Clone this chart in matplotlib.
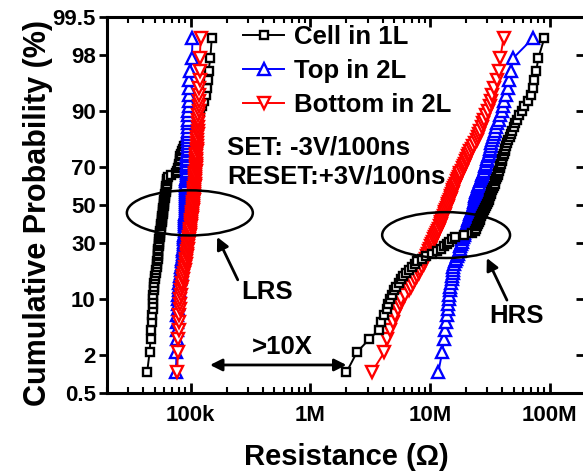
from statistics import NormalDist
import numpy as np
import matplotlib as mpl
mpl.use('Agg')
import matplotlib.pyplot as plt
from matplotlib.patches import Ellipse
from matplotlib.ticker import LogLocator, NullFormatter

mpl.rcParams.update({'font.family': ['Liberation Sans', 'DejaVu Sans'],
                     'font.weight': 'bold', 'axes.labelweight': 'bold'})

# resistance of each cell, sorted; LRS in kOhm, HRS in MOhm (90 cells per set)
lrs_cell_1l = [43.3, 45.4, 46.2, 47.0, 47.7, 47.9, 48.1, 48.3, 48.5, 48.7,
               49.0, 49.2, 49.6, 50.0, 50.5, 51.0, 51.5, 52.0, 52.5, 52.7,
               52.9, 53.1, 53.3, 53.5, 53.7, 53.9, 54.1, 54.4, 54.7, 55.0,
               55.3, 55.6, 55.9, 56.2, 56.5, 56.8, 57.2, 57.5, 57.7, 57.9,
               58.2, 58.5, 58.8, 59.1, 59.5, 59.8, 60.1, 60.4, 60.7, 61.0,
               61.3, 61.7, 62.1, 62.4, 62.7, 63.0, 63.3, 63.8, 64.5, 68.0,
               75.0, 77.5, 79.0, 79.8, 80.4, 81.0, 81.6, 82.2, 82.8, 84.5,
               86.1, 88.3, 90.6, 93.0, 95.4, 98.0, 100.9, 103.9, 107.2, 110.9,
               115.0, 119.5, 124.6, 129.5, 133.0, 136.0, 139.0, 141.0, 146.0, 150.0]
lrs_top_2l = [75.5, 76.0, 76.4, 76.7, 77.0, 77.4, 77.8, 78.2, 78.6, 79.1,
              79.6, 80.1, 80.6, 81.2, 81.8, 82.4, 83.0, 83.6, 84.2, 84.7,
              85.2, 85.7, 86.1, 86.5, 86.9, 87.3, 87.7, 88.0, 88.3, 88.5,
              88.7, 88.9, 89.1, 89.3, 89.5, 89.7, 89.9, 90.0, 90.2, 90.3,
              90.5, 90.6, 90.7, 90.8, 90.9, 91.0, 91.1, 91.2, 91.3, 91.4,
              91.5, 91.6, 91.7, 91.8, 91.9, 92.0, 92.1, 92.2, 92.3, 92.4,
              92.5, 92.6, 92.8, 93.0, 93.2, 93.4, 93.6, 93.8, 94.0, 94.2,
              94.4, 94.6, 94.8, 95.0, 95.1, 95.2, 95.3, 95.4, 95.5, 95.6,
              95.7, 95.8, 96.0, 96.2, 96.4, 96.6, 97.0, 99.5, 102.5, 103.5]
lrs_bottom_2l = [77.5, 77.8, 78.5, 79.5, 80.0, 80.4, 80.8, 81.3, 81.8, 82.5,
                 83.4, 84.3, 85.2, 86.1, 87.0, 87.9, 88.8, 89.7, 90.6, 91.4,
                 92.1, 92.8, 93.4, 94.0, 94.6, 95.2, 95.8, 96.4, 97.0, 97.5,
                 98.0, 98.5, 99.0, 99.5, 100.0, 100.5, 101.0, 101.5, 102.0, 102.5,
                 103.0, 103.4, 103.8, 104.2, 104.6, 105.0, 105.3, 105.6, 105.9, 106.2,
                 106.5, 106.8, 107.1, 107.4, 107.7, 108.0, 108.3, 108.6, 108.9, 109.2,
                 109.5, 109.8, 110.0, 110.3, 110.6, 110.9, 111.2, 111.5, 111.8, 112.1,
                 112.4, 112.7, 113.0, 113.4, 113.8, 114.2, 114.6, 115.0, 115.4, 115.8,
                 116.2, 116.6, 117.0, 117.4, 117.8, 118.2, 118.6, 118.9, 119.3, 121.0]

hrs_cell_1l = [2.00, 2.45, 3.10, 3.75, 3.90, 4.15, 4.35, 4.45, 4.60, 4.80,
               5.00, 5.20, 5.45, 5.70, 5.95, 6.30, 6.60, 7.00, 7.40, 7.80,
               8.50, 9.20, 10.3, 11.4, 12.3, 13.0, 13.7, 14.4, 15.2, 16.0,
               19.0, 22.5, 23.5, 24.0, 24.5, 25.0, 25.5, 25.9, 26.3, 26.7,
               27.2, 27.7, 28.2, 28.7, 29.3, 29.7, 30.2, 30.7, 31.2, 31.7,
               32.1, 32.5, 33.0, 33.5, 34.0, 34.5, 35.0, 35.5, 36.0, 36.5,
               37.0, 37.5, 38.0, 38.6, 39.1, 39.6, 40.1, 40.7, 41.3, 41.9,
               42.5, 43.1, 44.0, 45.0, 46.0, 47.2, 48.5, 50.0, 51.5, 53.0,
               55.0, 58.0, 61.0, 65.0, 69.0, 72.0, 74.0, 77.0, 80.0, 90.0]
hrs_top_2l = [11.7, 12.6, 13.1, 13.4, 13.6, 13.8, 14.0, 14.1, 14.3, 14.4,
              14.5, 14.7, 14.9, 15.1, 15.3, 15.4, 15.5, 15.6, 15.8, 16.1,
              16.4, 16.7, 17.0, 17.3, 17.6, 17.9, 18.1, 18.3, 18.5, 18.7,
              19.0, 19.2, 19.5, 19.7, 20.0, 20.2, 20.5, 20.8, 21.1, 21.4,
              21.7, 22.0, 22.3, 22.6, 22.9, 23.1, 23.3, 23.5, 23.7, 23.9,
              24.1, 24.3, 24.5, 24.9, 25.3, 25.7, 26.1, 26.5, 26.9, 27.3,
              27.7, 28.1, 28.5, 28.9, 29.3, 29.7, 30.1, 30.5, 30.9, 31.3,
              31.7, 32.1, 32.5, 32.9, 33.3, 33.8, 34.5, 35.2, 36.4, 37.5,
              38.5, 39.6, 40.5, 41.5, 43.0, 44.3, 45.5, 47.0, 49.5, 72.7]
hrs_bottom_2l = [3.25, 4.15, 4.35, 4.65, 4.90, 5.10, 5.35, 5.55, 5.75, 6.20,
                 6.70, 6.95, 7.20, 7.50, 7.80, 8.05, 8.30, 8.55, 8.80, 9.00,
                 9.20, 9.40, 9.60, 9.80, 10.0, 10.2, 10.4, 10.6, 10.8, 11.0,
                 11.2, 11.4, 11.6, 11.8, 12.0, 12.2, 12.4, 12.6, 12.8, 13.0,
                 13.2, 13.4, 13.6, 13.8, 14.0, 14.2, 14.4, 14.6, 14.8, 15.0,
                 15.2, 15.4, 15.6, 15.8, 16.1, 16.4, 16.7, 17.0, 17.3, 17.6,
                 17.9, 18.3, 18.7, 19.1, 19.5, 19.9, 20.3, 20.7, 21.1, 21.5,
                 22.2, 23.0, 23.7, 24.4, 25.0, 25.7, 26.3, 27.0, 27.6, 28.4,
                 29.3, 30.5, 31.3, 32.0, 33.0, 34.0, 36.0, 37.5, 38.5, 41.0]

labels = ["Cell in 1L", "Top in 2L", "Bottom in 2L"]
colors = ["black", "blue", "red"]
markers = ["s", "^", "v"]
msizes = [6, 8, 8]

prob_ticks = [0.5, 2, 10, 30, 50, 70, 90, 98, 99.5]
prob_labels = ["0.5", "2", "10", "30", "50", "70", "90", "98", "99.5"]
res_ticks = [1e5, 1e6, 1e7, 1e8]
res_labels = ["100k", "1M", "10M", "100M"]


def probit(p):
    return NormalDist().inv_cdf(p / 100.0)


def cum_prob(vals):
    n = len(vals)
    return [probit(100.0 * i / (n + 1)) for i in range(1, n + 1)]


fig = plt.figure(figsize=(5.83, 4.72), dpi=100)
ax = fig.add_axes([0.1835, 0.1674, 0.8216, 0.7966])

lrs = [lrs_cell_1l, lrs_top_2l, lrs_bottom_2l]
hrs = [hrs_cell_1l, hrs_top_2l, hrs_bottom_2l]
lrs_z = [1, 2, 3]
hrs_z = [3, 1, 2]
for i in range(3):
    kw = dict(color=colors[i], marker=markers[i], ms=msizes[i], mfc="white",
              mec=colors[i], mew=1.7, lw=1.4)
    ax.plot(np.array(lrs[i]) * 1e3, cum_prob(lrs[i]), label=labels[i], zorder=lrs_z[i], **kw)
    ax.plot(np.array(hrs[i]) * 1e6, cum_prob(hrs[i]), zorder=hrs_z[i], **kw)

zt = [probit(p) for p in prob_ticks]
ax.set_xscale("log")
ax.set_xlim(2e4, 2e8)
ax.set_ylim(zt[0], zt[-1])
ax.set_xticks(res_ticks)
ax.set_xticklabels(res_labels)
ax.xaxis.set_minor_locator(LogLocator(base=10, subs=range(2, 10), numticks=20))
ax.xaxis.set_minor_formatter(NullFormatter())
ax.set_yticks(zt)
ax.set_yticklabels(prob_labels)
ax.tick_params(axis="x", which="major", direction="in", top=True, length=7, width=2, labelsize=16, pad=9)
ax.tick_params(axis="x", which="minor", direction="in", top=True, length=4, width=1.5)
ax.tick_params(axis="y", which="major", direction="out", length=6, width=2, labelsize=16, pad=2)
for sp in ax.spines.values():
    sp.set_linewidth(2.2)

ax_r = ax.twinx()
ax_r.set_ylim(ax.get_ylim())
ax_r.set_yticks(zt)
ax_r.set_yticklabels([])
ax_r.tick_params(axis="y", direction="in", length=7, width=2)

ax.set_xlabel("Resistance (Ω)", fontsize=21, labelpad=12)
ax.set_ylabel("Cumulative Probability (%)", fontsize=22)
ax.yaxis.set_label_coords(-0.112, 0.48)

ax.legend(loc="upper left", bbox_to_anchor=(0.284, 0.978), frameon=False, fontsize=18.5,
          handlelength=1.6, handletextpad=0.4, labelspacing=0.38, borderpad=0, borderaxespad=0)

ax.text(0.251, 0.654, "SET: -3V/100ns", transform=ax.transAxes, fontsize=18.5, va="center", ha="left")
ax.text(0.251, 0.577, "RESET:+3V/100ns", transform=ax.transAxes, fontsize=18.5, va="center", ha="left")

ax.add_patch(Ellipse((0.173, 0.479), 0.263, 0.12, transform=ax.transAxes, fill=False, lw=1.8, ec="black", zorder=5))
ax.add_patch(Ellipse((0.708, 0.420), 0.267, 0.122, transform=ax.transAxes, fill=False, lw=1.8, ec="black", zorder=5))

arrow = dict(arrowstyle="-|>", color="black", lw=2, mutation_scale=18, shrinkA=0, shrinkB=0)
ax.annotate("", xy=(0.230, 0.415), xytext=(0.273, 0.301), xycoords="axes fraction", arrowprops=arrow)
ax.annotate("", xy=(0.793, 0.359), xytext=(0.835, 0.247), xycoords="axes fraction", arrowprops=arrow)
ax.text(0.334, 0.269, "LRS", transform=ax.transAxes, fontsize=18.5, ha="center", va="center")
ax.text(0.854, 0.205, "HRS", transform=ax.transAxes, fontsize=18.5, ha="center", va="center")

tr = ax.get_xaxis_transform()
ax.annotate("", xy=(1.45e5, 0.0745), xytext=(2.0e6, 0.0745), xycoords=tr,
            arrowprops=dict(arrowstyle="<|-|>", color="black", lw=2, mutation_scale=18, shrinkA=0, shrinkB=0))
ax.text(5.8e5, 0.122, ">10X", transform=tr, fontsize=18.5, ha="center", va="center")

plt.savefig("out.png", dpi=100)
plt.close(fig)
